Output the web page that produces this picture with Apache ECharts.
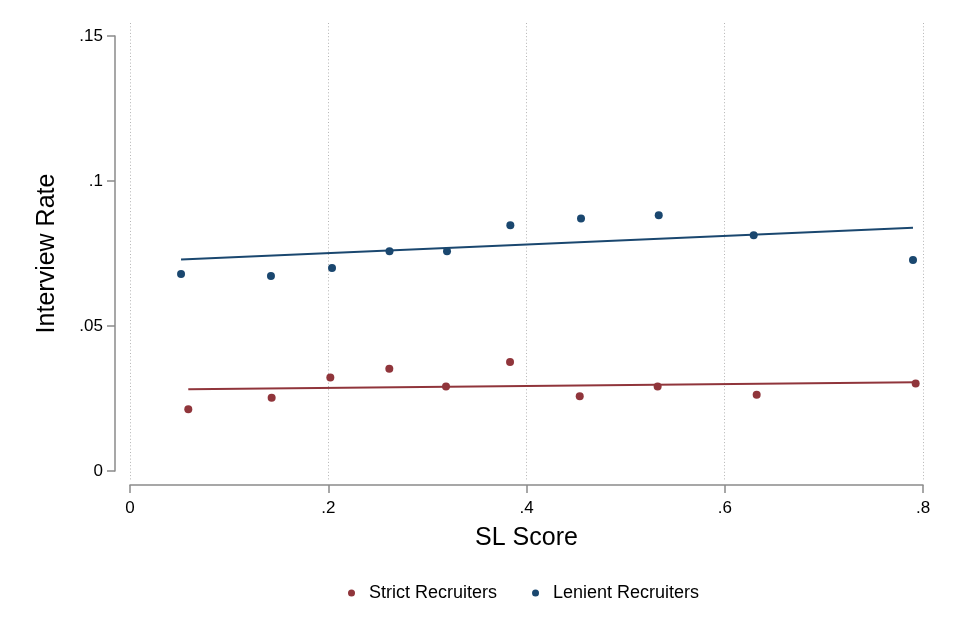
<!DOCTYPE html>
<html>
<head>
<meta charset="utf-8">
<script src="https://cdn.jsdelivr.net/npm/echarts@6/dist/echarts.min.js"></script>
<style>
  html, body { margin: 0; padding: 0; background: #ffffff; }
  #chart { width: 960px; height: 640px; }
</style>
</head>
<body>
<div id="chart"></div>
<script>
// ---- Data ----
const strictX = [0.0588, 0.1429, 0.2021, 0.2616, 0.3188, 0.3834, 0.4537, 0.5323, 0.6322, 0.7926];
const strictY = [0.0213, 0.0253, 0.0322, 0.0353, 0.0291, 0.0376, 0.0258, 0.0291, 0.0263, 0.0302];
const lenientX = [0.0515, 0.1422, 0.2038, 0.2618, 0.3198, 0.3837, 0.4550, 0.5334, 0.6292, 0.7899];
const lenientY = [0.0679, 0.0672, 0.0700, 0.0758, 0.0758, 0.0847, 0.0871, 0.0882, 0.0813, 0.0728];
// Linear fit lines (endpoints)
const strictFitX = [0.0588, 0.7926];
const strictFitY = [0.0282, 0.0306];
const lenientFitX = [0.0515, 0.7899];
const lenientFitY = [0.0729, 0.0839];
// Axis ticks
const xTicks = [0, 0.2, 0.4, 0.6, 0.8];
const yTicks = [0, 0.05, 0.10, 0.15];
const seriesNames = ['Strict Recruiters', 'Lenient Recruiters'];

const RED = '#90353b';
const BLUE = '#1a476f';
const AXIS = '#8a8a8a';
const FONT = 'Liberation Sans, Arial, Helvetica, sans-serif';

function zip(xs, ys) { return xs.map((x, i) => [x, ys[i]]); }
function fmt(v) {
  const s = String(Number(v.toFixed(3)));
  return s.replace(/^0\./, '.');
}

const chart = echarts.init(document.getElementById('chart'), null, { renderer: 'canvas' });
chart.setOption({
  backgroundColor: '#ffffff',
  animation: false,
  textStyle: { fontFamily: FONT },
  grid: [
    { left: 130, right: 37, top: 36, bottom: 169, containLabel: false },
    { left: 130, right: 37, top: 23, bottom: 160, containLabel: false }
  ],
  legend: {
    data: seriesNames,
    icon: 'circle',
    itemWidth: 25,
    itemHeight: 7,
    itemGap: 35,
    left: 343,
    top: 579,
    textStyle: { fontSize: 18, color: '#000', fontFamily: FONT }
  },
  xAxis: [
    {
      gridIndex: 0, type: 'value',
      min: xTicks[0], max: xTicks[xTicks.length - 1], interval: 0.2,
      offset: 14,
      name: 'SL Score', nameLocation: 'middle', nameGap: 41,
      nameTextStyle: { fontSize: 25, color: '#000', fontFamily: FONT },
      axisLine: { show: true, onZero: false, lineStyle: { color: AXIS, width: 1.5 } },
      axisTick: { show: true, length: 8, inside: false, lineStyle: { color: AXIS, width: 1.5 } },
      axisLabel: { show: true, margin: 15, fontSize: 17, color: '#000', fontFamily: FONT, formatter: fmt },
      splitLine: { show: false }
    },
    {
      gridIndex: 1, type: 'value',
      min: xTicks[0], max: xTicks[xTicks.length - 1], interval: 0.2,
      axisLine: { show: false, onZero: false }, axisTick: { show: false }, axisLabel: { show: false },
      splitLine: { show: true, lineStyle: { color: '#b4b4b4', width: 1, type: [1, 2.3] } }
    }
  ],
  yAxis: [
    {
      gridIndex: 0, type: 'value',
      min: yTicks[0], max: yTicks[yTicks.length - 1], interval: 0.05,
      offset: 15,
      name: 'Interview Rate', nameLocation: 'middle', nameGap: 55, nameRotate: 90,
      nameTextStyle: { fontSize: 25, color: '#000', fontFamily: FONT },
      axisLine: { show: true, onZero: false, lineStyle: { color: AXIS, width: 1.5 } },
      axisTick: { show: true, length: 8, inside: false, lineStyle: { color: AXIS, width: 1.5 } },
      axisLabel: { show: true, margin: 12, fontSize: 17, color: '#000', fontFamily: FONT, formatter: fmt },
      splitLine: { show: false }
    },
    { gridIndex: 1, type: 'value', show: false, min: 0, max: 1 }
  ],
  series: [
    {
      name: seriesNames[0], type: 'scatter', xAxisIndex: 0, yAxisIndex: 0,
      data: zip(strictX, strictY), symbol: 'circle', symbolSize: 8,
      itemStyle: { color: RED, opacity: 1 }, z: 3
    },
    {
      name: seriesNames[1], type: 'scatter', xAxisIndex: 0, yAxisIndex: 0,
      data: zip(lenientX, lenientY), symbol: 'circle', symbolSize: 8,
      itemStyle: { color: BLUE, opacity: 1 }, z: 3
    },
    {
      name: 'Strict fit', type: 'line', xAxisIndex: 0, yAxisIndex: 0,
      data: zip(strictFitX, strictFitY), showSymbol: false, symbol: 'none',
      lineStyle: { color: RED, width: 2 }, itemStyle: { color: RED }, z: 2
    },
    {
      name: 'Lenient fit', type: 'line', xAxisIndex: 0, yAxisIndex: 0,
      data: zip(lenientFitX, lenientFitY), showSymbol: false, symbol: 'none',
      lineStyle: { color: BLUE, width: 2 }, itemStyle: { color: BLUE }, z: 2
    }
  ]
});
</script>
</body>
</html>
